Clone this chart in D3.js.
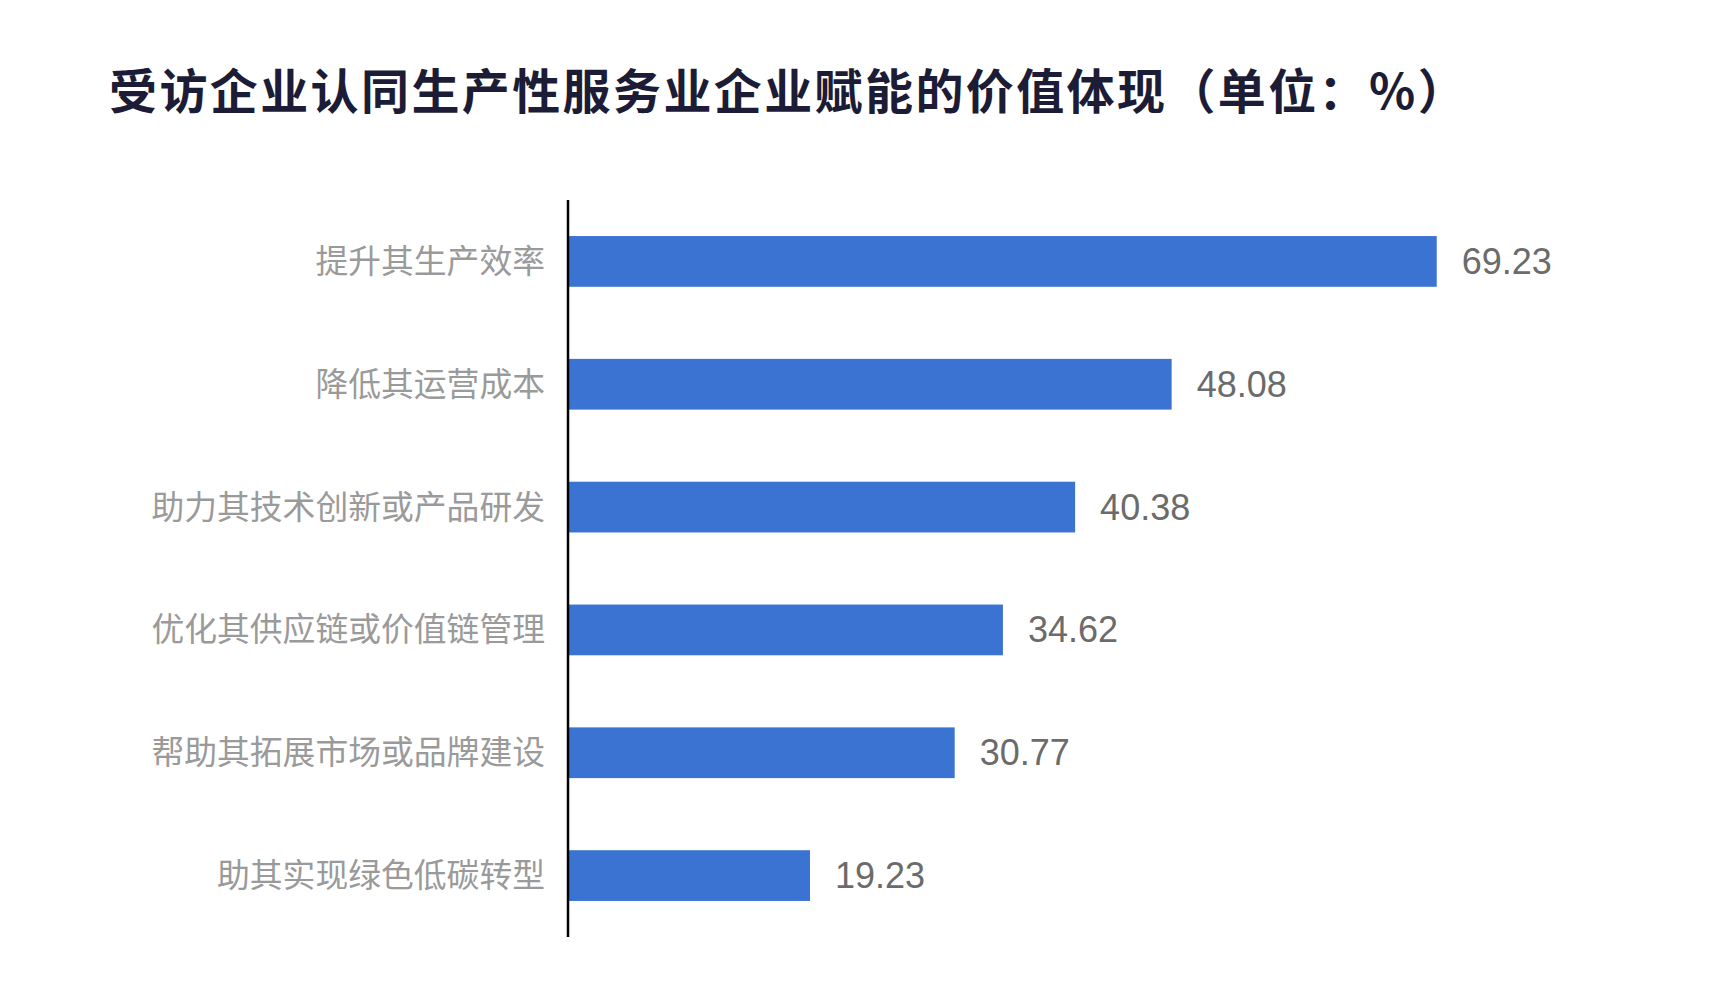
<!DOCTYPE html>
<html>
<head>
<meta charset="utf-8">
<script src="https://cdn.jsdelivr.net/npm/d3@7"></script>
<style>
  html, body { margin: 0; padding: 0; background: #ffffff; }
  svg { display: block; }
</style>
</head>
<body>
<svg id="chart" width="1718" height="1006"></svg>
<script>
const titleText = "受访企业认同生产性服务业企业赋能的价值体现（单位：%）";
const categories = [
  "提升其生产效率",
  "降低其运营成本",
  "助力其技术创新或产品研发",
  "优化其供应链或价值链管理",
  "帮助其拓展市场或品牌建设",
  "助其实现绿色低碳转型"
];
const values = [69.23, 48.08, 40.38, 34.62, 30.77, 19.23];

const svg = d3.select("#chart");
const W = 1718, H = 1006;
svg.append("rect").attr("width", W).attr("height", H).attr("fill", "#ffffff");

const axisX = 568;
const x = d3.scaleLinear().domain([0, 80]).range([axisX + 1, axisX + 1 + 80 * 12.534]);
const y = d3.scaleBand().domain(categories).range([200, 937])
  .paddingInner(0.587).paddingOuter(0.2935);

// title
svg.append("text")
  .attr("x", 109)
  .attr("y", 88)
  .attr("dominant-baseline", "central")
  .attr("font-family", "'Noto Sans CJK SC', sans-serif")
  .attr("font-weight", 700)
  .attr("font-size", 48)
  .attr("letter-spacing", 2.4)
  .attr("fill", "#1c1c36")
  .text(titleText);

const data = categories.map((c, i) => ({ c, v: values[i] }));

// bars
svg.append("g").selectAll("rect").data(data).join("rect")
  .attr("x", x(0))
  .attr("y", d => y(d.c))
  .attr("width", d => x(d.v) - x(0))
  .attr("height", y.bandwidth())
  .attr("fill", "#3b73d3");

// value labels
svg.append("g").selectAll("text").data(data).join("text")
  .attr("x", d => x(d.v) + 25)
  .attr("y", d => y(d.c) + y.bandwidth() / 2)
  .attr("dominant-baseline", "central")
  .attr("font-family", "'Liberation Sans', Arial, sans-serif")
  .attr("font-size", 36)
  .attr("fill", "#6b6b6b")
  .text(d => d.v.toFixed(2));

// category axis
const yAxis = d3.axisLeft(y).tickSize(0).tickPadding(23);
const gAxis = svg.append("g").attr("transform", `translate(${axisX},0)`).call(yAxis);
gAxis.select(".domain").remove();
gAxis.selectAll("text")
  .attr("font-family", "'Noto Sans CJK SC', serif")
  .attr("font-size", 32.8)
  .attr("fill", "#9a9a9a")
  .attr("dy", "0.35em");

svg.append("line")
  .attr("x1", axisX).attr("x2", axisX)
  .attr("y1", 200).attr("y2", 937)
  .attr("stroke", "#000000")
  .attr("stroke-width", 2.5);
</script>
</body>
</html>
